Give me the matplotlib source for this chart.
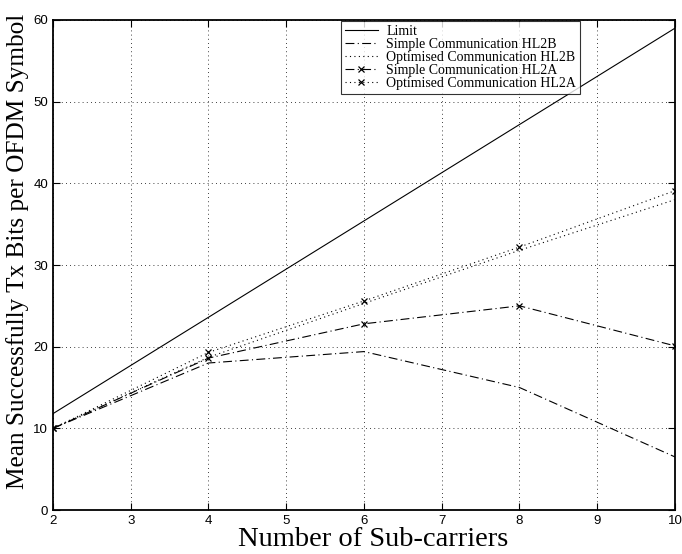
import matplotlib
matplotlib.use("Agg")
import matplotlib.pyplot as plt

subcarriers = [2, 4, 6, 8, 10]
limit = [11.8, 23.6, 35.4, 47.2, 59.0]
simple_hl2b = [10.0, 18.0, 19.4, 15.0, 6.5]
optimised_hl2b = [10.0, 18.7, 25.3, 31.8, 38.0]
simple_hl2a = [10.0, 18.6, 22.8, 25.0, 20.1]
optimised_hl2a = [10.0, 19.3, 25.6, 32.2, 39.1]

serif = "Liberation Serif"
sans = "Liberation Sans"

fig = plt.figure(figsize=(6.82, 5.54), dpi=100)
ax = fig.add_axes([0.0777, 0.0794, 0.912, 0.8845])

lw = 0.8
ax.plot(subcarriers, limit, color="black", linestyle="-", linewidth=lw, label="Limit")
ax.plot(subcarriers, simple_hl2b, color="black", linestyle=(0, (8, 3, 1, 3)), linewidth=lw,
        label="Simple Communication HL2B")
ax.plot(subcarriers, optimised_hl2b, color="black", linestyle=(0, (1, 3)), linewidth=lw,
        label="Optimised Communication HL2B")
ax.plot(subcarriers, simple_hl2a, color="black", linestyle=(0, (8, 3, 1, 3)), linewidth=lw,
        marker="x", markersize=5, markeredgewidth=0.9, label="Simple Communication HL2A")
ax.plot(subcarriers, optimised_hl2a, color="black", linestyle=(0, (1, 3)), linewidth=lw,
        marker="x", markersize=5, markeredgewidth=0.9, label="Optimised Communication HL2A")

ax.set_xlim(2, 10)
ax.set_ylim(0, 60)
ax.set_xticks(range(2, 11))
ax.set_yticks(range(0, 61, 10))
ax.grid(True, color="black", linestyle=(0, (1, 4)), linewidth=0.6)
ax.tick_params(direction="in", top=True, right=True, length=5, labelsize=9.5, width=0.8)
for lab in ax.get_xticklabels() + ax.get_yticklabels():
    lab.set_fontfamily(sans)
for s in ax.spines.values():
    s.set_linewidth(1.3)

ax.set_xlabel("Number of Sub-carriers", fontfamily=serif, fontsize=20.5, labelpad=0)
ax.xaxis.set_label_coords(0.514, -0.035, transform=ax.transAxes)
ax.xaxis.label.set_va("top")
ax.set_ylabel("Mean Successfully Tx Bits per OFDM Symbol", fontfamily=serif, fontsize=18.2, labelpad=2)
ax.yaxis.set_label_coords(-0.039, 0.527)

leg = ax.legend(loc="upper right", bbox_to_anchor=(0.848, 0.998), prop={"family": serif, "size": 10},
                handlelength=2.4, handletextpad=0.6, frameon=True, fancybox=False, edgecolor="black",
                borderaxespad=0, labelspacing=0.0, borderpad=0.3)
leg.get_frame().set_linewidth(0.8)

fig.savefig("out.png", dpi=100)
